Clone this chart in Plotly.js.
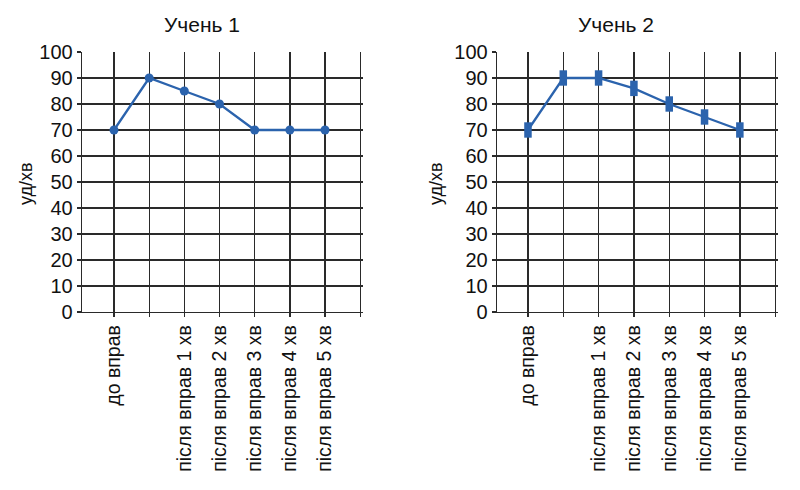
<!DOCTYPE html>
<html>
<head>
<meta charset="utf-8">
<script src="https://cdn.plot.ly/plotly-3.0.1.min.js"></script>
<style>
  html, body { margin: 0; padding: 0; background: #ffffff; }
  #chart { width: 800px; height: 490px; }
</style>
</head>
<body>
<div id="chart"></div>
<script>
// categories (index 1 has no label on the original chart)
const categories = ['до вправ', '', 'після вправ 1 хв', 'після вправ 2 хв',
  'після вправ 3 хв', 'після вправ 4 хв', 'після вправ 5 хв']
const pupil1 = [70, 90, 85, 80, 70, 70, 70]
const pupil2 = [70, 90, 90, 86, 80, 75, 70]
const titles = ['Учень 1', 'Учень 2']
const yTitle = 'уд/хв'
const yTicks = [0, 10, 20, 30, 40, 50, 60, 70, 80, 90, 100]

const lineColor = '#2b63ad'
const gridColor = '#2a2a2a'
const font = 'Arial, "Liberation Sans", sans-serif'

const xIdx = categories.map((_, i) => i)
const tickVals = xIdx.concat([categories.length])
const tickText = categories.concat([''])

function xAxis(domain, left) {
  return {
    domain: domain,
    range: [left, categories.length + 0.08],
    tickmode: 'array',
    tickvals: tickVals,
    ticktext: tickText,
    tickangle: -90,
    ticks: 'outside',
    ticklen: 4,
    tickcolor: gridColor,
    tickwidth: 1.3,
    showgrid: true,
    gridcolor: gridColor,
    gridwidth: 1.3,
    showline: true,
    linecolor: gridColor,
    linewidth: 1.3,
    zeroline: false,
    fixedrange: true,
    tickfont: { family: font, size: 19.5, color: '#111' },
  }
}

function yAxis(anchor) {
  return {
    domain: [0.3633, 0.8939],
    range: [0, 100],
    anchor: anchor,
    tickmode: 'array',
    tickvals: yTicks,
    ticks: 'outside',
    ticklen: 4,
    tickcolor: gridColor,
    tickwidth: 1.3,
    showgrid: true,
    gridcolor: gridColor,
    gridwidth: 1.3,
    showline: true,
    linecolor: gridColor,
    linewidth: 1.3,
    zeroline: false,
    fixedrange: true,
    tickfont: { family: font, size: 20, color: '#111' },
  }
}

const data = [
  {
    type: 'scatter', mode: 'lines+markers',
    x: xIdx, y: pupil1, xaxis: 'x', yaxis: 'y',
    line: { color: lineColor, width: 2.3 },
    marker: { symbol: 'circle', size: 9, color: lineColor },
    hoverinfo: 'y',
  },
  {
    type: 'scatter', mode: 'lines+markers',
    x: xIdx, y: pupil2, xaxis: 'x2', yaxis: 'y2',
    line: { color: lineColor, width: 2.3 },
    marker: { symbol: 'line-ns', size: 11, color: lineColor, line: { color: lineColor, width: 7.5 } },
    hoverinfo: 'y',
  },
]

function label(text, px, py, size, angle) {
  return {
    text: text, x: px / 800, y: 1 - py / 490, xref: 'paper', yref: 'paper',
    xanchor: 'center', yanchor: 'middle', textangle: angle,
    showarrow: false, font: { family: font, size: size, color: '#111' },
  }
}

const layout = {
  width: 800,
  height: 490,
  margin: { t: 0, r: 0, b: 0, l: 0 },
  paper_bgcolor: '#ffffff',
  plot_bgcolor: '#ffffff',
  showlegend: false,
  xaxis: xAxis([0.1025, 0.45375], -0.91),
  yaxis: yAxis('x'),
  xaxis2: xAxis([0.62125, 0.9725], -0.877),
  yaxis2: yAxis('x2'),
  annotations: [
    label(titles[0], 202, 25, 21, 0),
    label(titles[1], 616, 25, 21, 0),
    label(yTitle, 26, 184, 18, -90),
    label(yTitle, 436, 184, 18, -90),
  ],
}

Plotly.newPlot('chart', data, layout, { displayModeBar: false, staticPlot: true })
</script>
</body>
</html>
